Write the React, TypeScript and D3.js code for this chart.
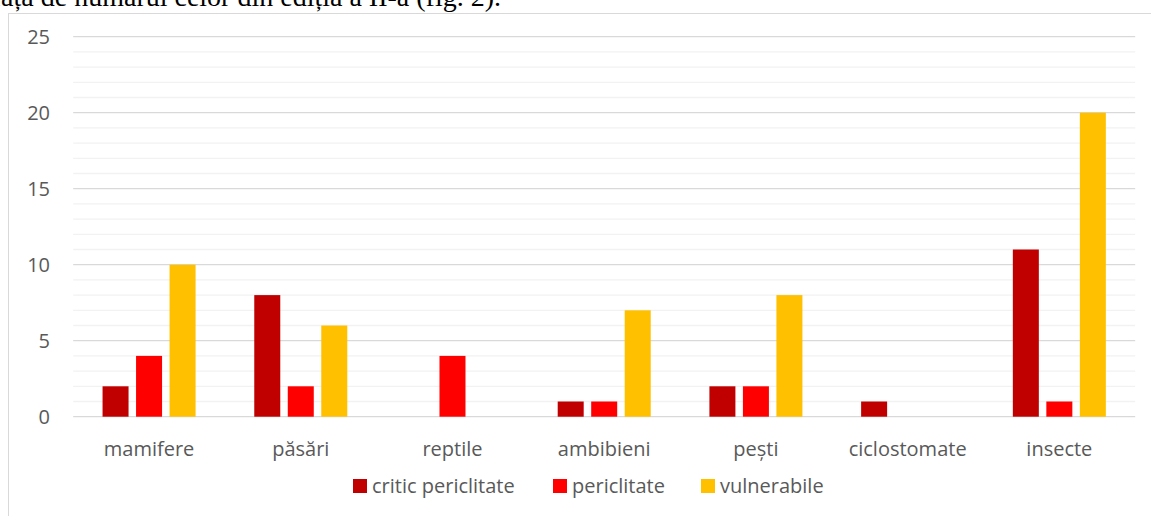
import React from "react";
import * as d3 from "d3";

const categories = ["mamifere", "păsări", "reptile", "ambibieni", "pești", "ciclostomate", "insecte"];
const seriesNames = ["critic periclitate", "periclitate", "vulnerabile"];
const criticValues = [2, 8, 0, 1, 2, 1, 11];
const periclitateValues = [4, 2, 4, 1, 2, 0, 1];
const vulnerabileValues = [10, 6, 0, 7, 8, 0, 20];
const majorTicks = [0, 5, 10, 15, 20, 25];
const minorTicks = d3.range(0, 26);
const colors = ["#C00000", "#FF0000", "#FFC000"];
const topLine = "față de numărul celor din ediția a II-a (fig. 2).";

const W = 1151;
const H = 516;
const left = 73.2;
const right = 1135.2;
const y0 = 416.7;
const y25 = 36.7;

export default function App() {
  const x = d3.scaleBand<string>().domain(categories).range([left, right]).paddingInner(0).paddingOuter(0);
  const xs = d3
    .scaleBand<string>()
    .domain(seriesNames)
    .range([0, x.bandwidth()])
    .paddingInner(0.224)
    .paddingOuter(0.876);
  const y = d3.scaleLinear().domain([0, 25]).range([y0, y25]);
  const series = [criticValues, periclitateValues, vulnerabileValues];
  const font = "'Open Sans', 'Liberation Sans', sans-serif";
  const legendX = [353, 553, 701];

  return (
    <svg
      width={W}
      height={H}
      style={{ position: "absolute", left: 0, top: 0, background: "#fff" }}
    >
      <rect x={0} y={0} width={W} height={H} fill="#fff" />
      <text
        x={501}
        y={6}
        textAnchor="end"
        fontFamily="'Liberation Serif', 'Times New Roman', serif"
        fontSize={28}
        fill="#000"
      >
        {topLine}
      </text>
      <rect x={8.5} y={13.5} width={W + 10} height={H + 10} fill="#fff" stroke="#d9d9d9" strokeWidth={1} />
      {minorTicks
        .filter((t) => t % 5 !== 0)
        .map((t) => (
          <line key={"m" + t} x1={left} x2={right} y1={y(t)} y2={y(t)} stroke="#f2f2f2" strokeWidth={1.3} />
        ))}
      {majorTicks.map((t) => (
        <line key={"M" + t} x1={left} x2={right} y1={y(t)} y2={y(t)} stroke="#d9d9d9" strokeWidth={1.3} />
      ))}
      {majorTicks.map((t) => (
        <text
          key={"l" + t}
          x={50}
          y={y(t)}
          dy="0.36em"
          textAnchor="end"
          fontFamily={font}
          fontSize={20}
          fill="#595959"
        >
          {t}
        </text>
      ))}
      {categories.map((c, i) => (
        <g key={c}>
          {series.map((vals, s) =>
            vals[i] > 0 ? (
              <rect
                key={s}
                x={(x(c) as number) + (xs(seriesNames[s]) as number)}
                y={y(vals[i])}
                width={xs.bandwidth()}
                height={y(0) - y(vals[i])}
                fill={colors[s]}
              />
            ) : null
          )}
          <text
            x={(x(c) as number) + x.bandwidth() / 2}
            y={456}
            textAnchor="middle"
            fontFamily={font}
            fontSize={20}
            fill="#595959"
          >
            {c}
          </text>
        </g>
      ))}
      {seriesNames.map((n, s) => (
        <g key={n}>
          <rect x={legendX[s]} y={479} width={14} height={14} fill={colors[s]} />
          <text x={legendX[s] + 19} y={493} fontFamily={font} fontSize={20} fill="#595959">
            {n}
          </text>
        </g>
      ))}
    </svg>
  );
}
